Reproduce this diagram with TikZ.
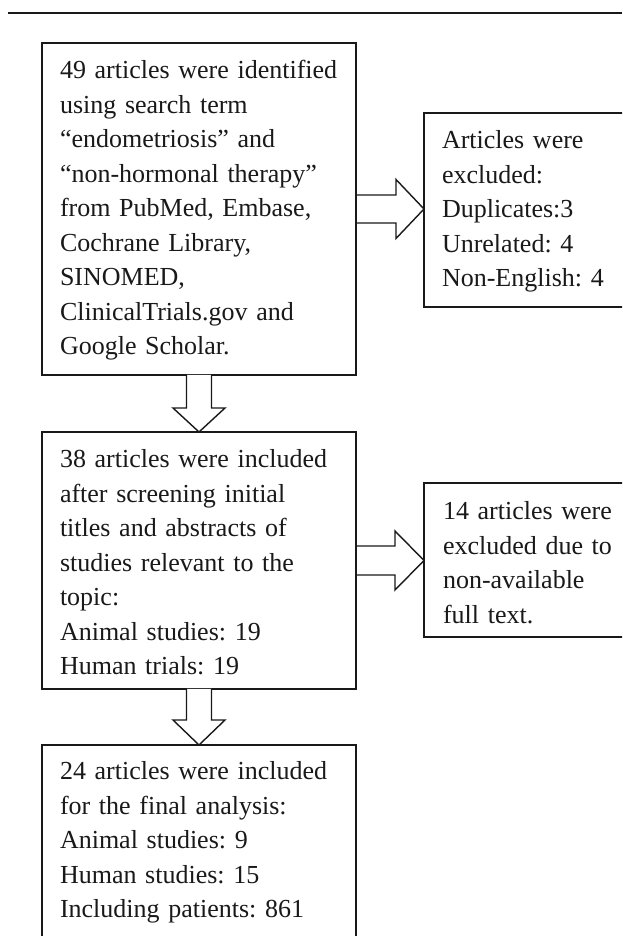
\documentclass[tikz,border=0pt]{standalone}
\usepackage{fontspec}
\setmainfont{Liberation Serif}
\usetikzlibrary{calc}
\definecolor{ink}{RGB}{25,25,25}
\frenchspacing
\tikzset{
  box/.style={draw=ink, line width=1.3pt, inner sep=0pt, outer sep=0pt},
  mainbox/.style={box, line width=2pt},
  txt/.style={anchor=north west, inner sep=0pt, outer sep=0pt, align=left,
              text width=#1, text=ink, font=\fontsize{26pt}{34.5pt}\selectfont\frenchspacing},
  txt/.default=300pt,
  barrow/.style={draw=ink, line width=1.4pt, line join=miter, fill=white}
}
\begin{document}
\begin{tikzpicture}[x=1pt,y=1pt]
\useasboundingbox (0,0) rectangle (622,936);
\clip (0,0) rectangle (622,936);
\fill[white] (0,0) rectangle (622,936);
% top rule
\coordinate (ruleL) at (8,923);
\coordinate (ruleR) at (622,923);
\draw[ink, line width=2.3pt] (ruleL) -- (ruleR);
% boxes
\node[mainbox, minimum width=314pt, minimum height=332pt] (b1) at (199,727) {};
\node[box, minimum width=216pt, minimum height=194pt] (b2) at (532,726) {};
\node[box, minimum width=314pt, minimum height=257pt] (b3) at (199,375.5) {};
\node[box, minimum width=216pt, minimum height=154pt] (b4) at (532,376) {};
\node[box, minimum width=314pt, minimum height=215pt] (b5) at (199,83.5) {};
% texts
\node[txt] (t1) at (60,881.15) {\strut 49 articles were identified\\
using search term\\
“endometriosis” and\\
“non-hormonal therapy”\\
from PubMed, Embase,\\
Cochrane Library,\\
SINOMED,\\
ClinicalTrials.gov and\\
Google Scholar.};
\node[txt=200pt] (t2) at (442,811.15) {\strut Articles were\\
excluded:\\
Duplicates:3\\
Unrelated: 4\\
Non-English: 4};
\node[txt] (t3) at (60,492.15) {\strut 38 articles were included\\
after screening initial\\
titles and abstracts of\\
studies relevant to the\\
topic:\\
Animal studies: 19\\
Human trials: 19};
\node[txt=200pt] (t4) at (443,440.15) {\strut 14 articles were\\
excluded due to\\
non-available\\
full text.};
\node[txt] (t5) at (60,180.15) {\strut 24 articles were included\\
for the final analysis:\\
Animal studies: 9\\
Human studies: 15\\
Including patients: 861};
% block arrows
\coordinate (tipA) at (b1.east -| b2.west);
\draw[barrow] ([yshift=14pt]b1.east) -- ([xshift=-28pt,yshift=14pt]tipA)
  -- ([xshift=-28pt,yshift=29.5pt]tipA) -- (tipA)
  -- ([xshift=-28pt,yshift=-29.5pt]tipA) -- ([xshift=-28pt,yshift=-14pt]tipA)
  -- ([yshift=-14pt]b1.east);
\coordinate (tipC) at (b3.east -| b4.west);
\draw[barrow] ([yshift=14.5pt]b3.east) -- ([xshift=-29pt,yshift=14.5pt]tipC)
  -- ([xshift=-29pt,yshift=29.5pt]tipC) -- (tipC)
  -- ([xshift=-29pt,yshift=-29.5pt]tipC) -- ([xshift=-29pt,yshift=-14.5pt]tipC)
  -- ([yshift=-14.5pt]b3.east);
\draw[barrow] ([xshift=-12.5pt]b1.south) -- ([xshift=-12.5pt,yshift=24pt]b3.north)
  -- ([xshift=-26pt,yshift=24pt]b3.north) -- (b3.north)
  -- ([xshift=26pt,yshift=24pt]b3.north) -- ([xshift=12.5pt,yshift=24pt]b3.north)
  -- ([xshift=12.5pt]b1.south);
\draw[barrow] ([xshift=-12.5pt]b3.south) -- ([xshift=-12.5pt,yshift=25pt]b5.north)
  -- ([xshift=-26pt,yshift=25pt]b5.north) -- (b5.north)
  -- ([xshift=26pt,yshift=25pt]b5.north) -- ([xshift=12.5pt,yshift=25pt]b5.north)
  -- ([xshift=12.5pt]b3.south);
% redraw box edges over arrow fills
\draw[ink, line width=2pt] (b1.north east) -- (b1.south east);
\draw[ink, line width=1.3pt] (b3.north east) -- (b3.south east);
\end{tikzpicture}
\end{document}
